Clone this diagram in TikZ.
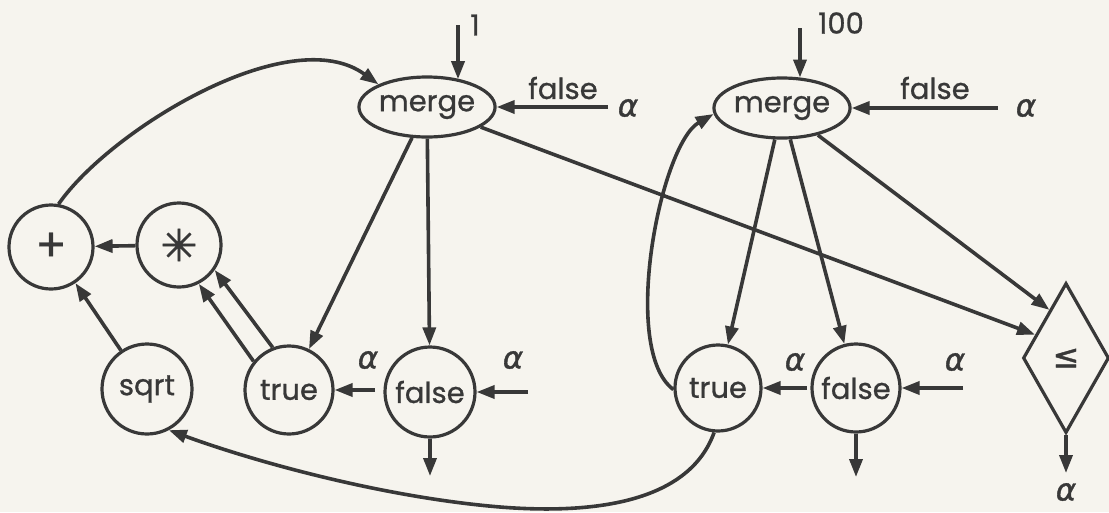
\documentclass[tikz,border=0pt]{standalone}
\usepackage{fontspec}
\setmainfont{Poppins}[FakeBold=0.9]
\newfontfamily\grk{DejaVu Sans}[FakeBold=1.2]
\usetikzlibrary{arrows.meta,shapes.geometric}
\definecolor{ink}{HTML}{383838}
\definecolor{paper}{HTML}{F6F4EE}
\begin{document}
\begin{tikzpicture}[x=1pt,y=-1pt,
  inkline/.style={draw=ink, line width=3.6pt},
  arr/.style={inkline, -{Triangle[length=18pt,width=13pt]}},
  txt/.style={text=ink, font=\fontsize{29}{29}\selectfont},
  op/.style={circle, draw=ink, line width=3.2pt, inner sep=0pt, txt},
  mrg/.style={ellipse, draw=ink, line width=3.2pt, minimum width=120pt, minimum height=60pt, inner sep=0pt, txt},
  alab/.style={text=ink, font=\grk\itshape\fontsize{31}{31}\selectfont},
]
\fill[paper] (0,0) rectangle (1109,512);
\useasboundingbox (0,0) rectangle (1109,512);

% nodes
\node[mrg] (merge1) at (427,107) {merge};
\node[mrg] (merge2) at (782,108) {merge};
\node[op, minimum size=84pt, font=\fontsize{46}{46}\selectfont] (plus) at (51,247) {+};
\node[op, minimum size=84pt, font=\grk\fontsize{44}{44}\selectfont] (star) at (179,245) {✳};
\node[op, minimum size=90pt] (sqrt) at (147,389) {sqrt};
\node[op, minimum size=88pt] (true1) at (289,390) {true};
\node[op, minimum size=90pt] (false1) at (430,392) {false};
\node[op, minimum size=86pt] (true2) at (718,388) {true};
\node[op, minimum size=88pt] (false2) at (856,388) {false};
\node[diamond, draw=ink, line width=3.2pt, minimum width=86pt, minimum height=150pt, inner sep=0pt, text=ink, font=\grk\fontsize{32}{32}\selectfont] (leq) at (1066,358) {≤};

% free ends
\coordinate (in1) at (458,25);
\coordinate (in2) at (800,28);
\coordinate (fa1) at (608,107);
\coordinate (fa2) at (998,108);
\coordinate (at1) at (375,390);
\coordinate (af1) at (528,392);
\coordinate (at2) at (807,388);
\coordinate (af2) at (963,388);
\coordinate (out1) at (430,476);
\coordinate (out2) at (856,477);
\coordinate (out3) at (1066,473);

% labels
\node[txt] (l1) at (475,25) {1};
\node[txt] (l100) at (841,23) {100};
\node[txt] (lf1) at (563,88) {false};
\node[txt] (lf2) at (935,88) {false};
\node[alab] (a1) at (628,108) {α};
\node[alab] (a2) at (1026,108) {α};
\node[alab] (a3) at (368,360) {α};
\node[alab] (a4) at (513,360) {α};
\node[alab] (a5) at (795,362) {α};
\node[alab] (a6) at (955,362) {α};
\node[alab] (a7) at (1066,492) {α};

% connectors
\draw[arr] (in1) -- (in1 |- merge1.40);
\draw[arr] (in2) -- (in2 |- merge2.59);
\draw[arr] (fa1) -- (merge1.east);
\draw[arr] (fa2) -- (merge2.east);
\draw[arr] (merge1) -- (true1);
\draw[arr] (merge1) -- (false1);
\draw[arr] (merge1) -- (leq.143);
\draw[arr] (merge2) -- (true2);
\draw[arr] (merge2) -- (false2);
\draw[arr] (merge2) -- (leq.109);
\draw[arr] (star) -- (plus);
\draw[arr] (sqrt) -- (plus);
\draw[arr] (true1.141) -- (star.-63);
\draw[arr] (true1.111) -- (star.-35);
\draw[arr] (at1) -- (true1.east);
\draw[arr] (af1) -- (false1.east);
\draw[arr] (at2) -- (true2.east);
\draw[arr] (af2) -- (false2.east);
\draw[arr] (false1.south) -- (out1);
\draw[arr] (false2.south) -- (out2);
\draw[arr] (leq.south) -- (out3);
\draw[arr] (plus.80) .. controls (110,130) and (290,20) .. (merge1.155);
\draw[arr] (true2.182) .. controls (620,350) and (660,145) .. (merge2.185);
\draw[arr] (true2.265) .. controls (690,500) and (600,515) .. (500,507) .. controls (380,497) and (250,460) .. (sqrt.-62);
\end{tikzpicture}
\end{document}
